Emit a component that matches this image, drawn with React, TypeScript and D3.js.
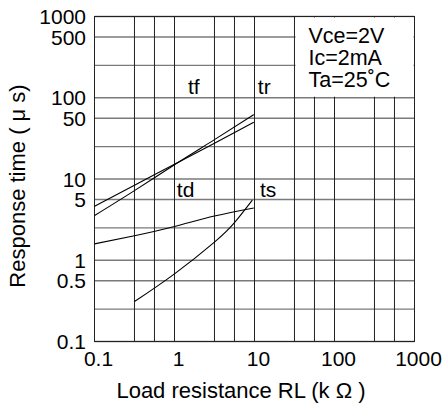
import React, { useEffect, useRef } from 'react';
import * as d3 from 'd3';

// grid lines as drawn on the sheet (minor lines sit at 1/2 and 3/4 of a decade)
const xGrid = [0.1, 0.316, 0.562, 1, 3.16, 5.62, 10, 31.6, 56.2, 100, 316, 562, 1000];
const yGrid = [0.1, 0.25, 0.56, 1, 2.5, 5.6, 10, 25, 56, 100, 250, 560, 1000];

const xTickValues = [0.1, 1, 10, 100, 1000];
const xTickLabels = ['0.1', '1', '10', '100', '1000'];
const yTickValues = [1000, 560, 100, 56, 10, 5.6, 1, 0.56, 0.1];
const yTickLabels = ['1000', '500', '100', '50', '10', '5', '1', '0.5', '0.1'];

// response time curves (load resistance kΩ -> µs)
const trX = [0.1, 0.316, 1, 3.16, 9.8];
const trY = [3.55, 7.2, 15, 30.5, 62];
const tfX = [0.1, 0.316, 1, 3.16, 9.8];
const tfY = [4.6, 8.4, 15.2, 27.5, 50];
const tdX = [0.1, 0.316, 1, 3.16, 9.8];
const tdY = [1.59, 2.0, 2.6, 3.5, 4.4];
const tsX = [0.316, 1, 3.16, 5.62, 9.4];
const tsY = [0.31, 0.68, 1.67, 2.9, 5.5];

const seriesNames = ['tr', 'tf', 'td', 'ts'];
const labelX = [11, 1.47, 1.07, 11.7];
const labelY = [110, 110, 6, 6];

const conditions = ['Vce=2V', 'Ic=2mA', 'Ta=25\u02DAC'];

const FONT = "'Liberation Sans', Arial, Helvetica, sans-serif";

const App: React.FC = () => {
  const svgRef = useRef<SVGSVGElement>(null);
  const width = 446;
  const height = 405;

  useEffect(() => {
    if (!svgRef.current) return;
    const svg = d3.select(svgRef.current);
    svg.selectAll('*').remove();

    const x = d3.scaleLog().domain([0.1, 1000]).range([94.5, 414.5]);
    const y = d3.scaleLog().domain([0.1, 1000]).range([341.5, 16.5]);

    svg.append('rect').attr('width', width).attr('height', height).attr('fill', '#fff');

    // horizontal grid (gray)
    svg.append('g')
      .selectAll('line')
      .data(yGrid)
      .join('line')
      .attr('x1', x(0.1))
      .attr('x2', x(1000))
      .attr('y1', d => y(d))
      .attr('y2', d => y(d))
      .attr('stroke', '#7a7a7a')
      .attr('stroke-width', 1.4);

    // vertical grid (dark)
    svg.append('g')
      .selectAll('line')
      .data(xGrid)
      .join('line')
      .attr('x1', d => x(d))
      .attr('x2', d => x(d))
      .attr('y1', y(1000))
      .attr('y2', y(0.1))
      .attr('stroke', '#222')
      .attr('stroke-width', 1);

    // frame
    svg.append('rect')
      .attr('x', x(0.1))
      .attr('y', y(1000))
      .attr('width', x(1000) - x(0.1))
      .attr('height', y(0.1) - y(1000))
      .attr('fill', 'none')
      .attr('stroke', '#222')
      .attr('stroke-width', 1);

    // condition box covers the grid in the upper right
    svg.append('rect')
      .attr('x', x(31.6) + 1)
      .attr('y', y(1000) + 1)
      .attr('width', x(1000) - x(31.6) - 2)
      .attr('height', y(100) - y(1000) - 2)
      .attr('fill', '#fff');

    conditions.forEach((c, i) => {
      svg.append('text')
        .attr('x', x(31.6) + 14)
        .attr('y', 43 + i * 22)
        .style('font-family', FONT)
        .style('font-size', '21.5px')
        .style('fill', '#000')
        .text(c);
    });

    // curves
    const line = d3.line<[number, number]>()
      .x(d => x(d[0]))
      .y(d => y(d[1]))
      .curve(d3.curveNatural);

    const series: Array<[number[], number[]]> = [[trX, trY], [tfX, tfY], [tdX, tdY], [tsX, tsY]];
    series.forEach(([xs, ys], i) => {
      const pts = xs.map((v, j) => [v, ys[j]] as [number, number]);
      svg.append('path')
        .attr('d', line(pts) as string)
        .attr('fill', 'none')
        .attr('stroke', '#000')
        .attr('stroke-width', 1.1);

      svg.append('text')
        .attr('x', x(labelX[i]))
        .attr('y', y(labelY[i]))
        .style('font-family', FONT)
        .style('font-size', '21px')
        .style('fill', '#000')
        .text(seriesNames[i]);
    });

    // x tick labels
    xTickValues.forEach((v, i) => {
      svg.append('text')
        .attr('x', x(v) + 4)
        .attr('y', 366)
        .attr('text-anchor', 'middle')
        .style('font-family', FONT)
        .style('font-size', '21px')
        .style('fill', '#000')
        .text(xTickLabels[i]);
    });

    // y tick labels
    yTickValues.forEach((v, i) => {
      svg.append('text')
        .attr('x', 86)
        .attr('y', y(v))
        .attr('dy', '0.36em')
        .attr('text-anchor', 'end')
        .style('font-family', FONT)
        .style('font-size', '21px')
        .style('fill', '#000')
        .text(yTickLabels[i]);
    });

    // axis titles
    svg.append('text')
      .attr('x', 241)
      .attr('y', 398)
      .attr('text-anchor', 'middle')
      .style('font-family', FONT)
      .style('font-size', '22px')
      .style('fill', '#000')
      .text('Load resistance RL (k \u03A9 )');

    svg.append('text')
      .attr('transform', 'translate(25, 186) rotate(-90)')
      .attr('text-anchor', 'middle')
      .style('font-family', FONT)
      .style('font-size', '22px')
      .style('fill', '#000')
      .text('Response time ( \u03BC s)');
  }, []);

  return (
    <svg
      ref={svgRef}
      width={width}
      height={height}
      style={{ position: 'absolute', left: 0, top: 0 }}
    />
  );
};

export default App;
